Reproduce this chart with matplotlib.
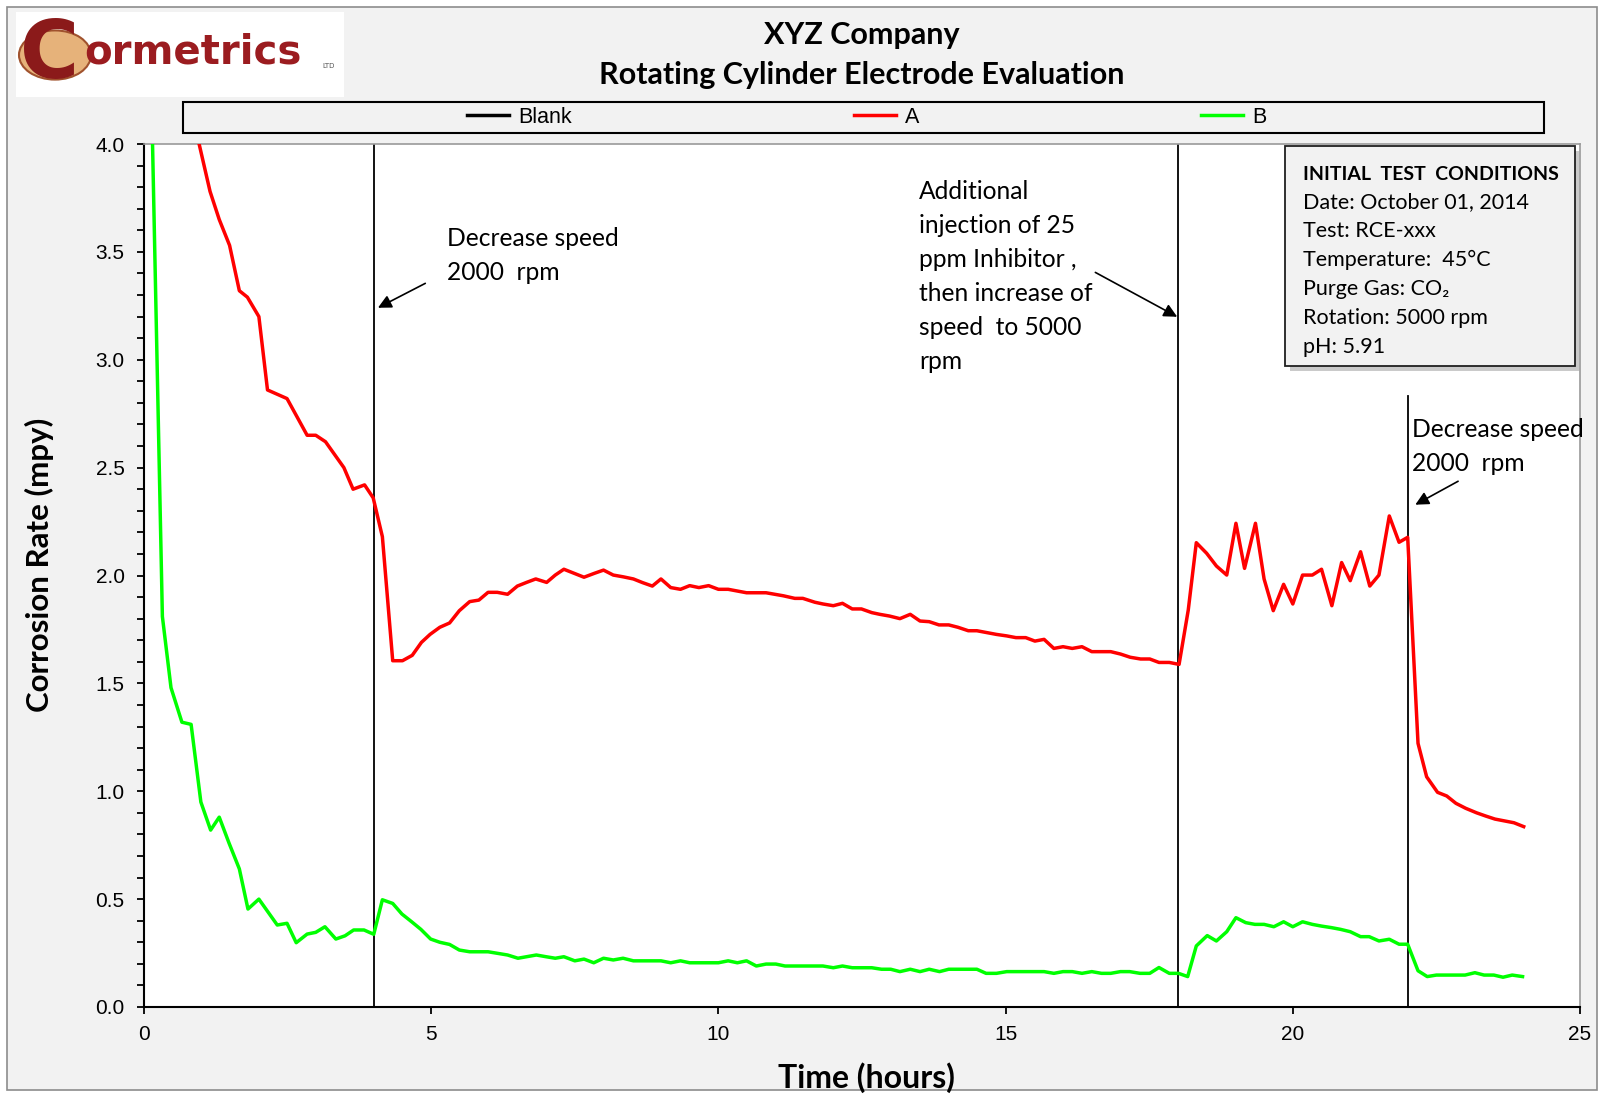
import numpy as np
import matplotlib
matplotlib.use("Agg")
import matplotlib.pyplot as plt
from matplotlib.patches import Rectangle, Circle

# Series (time in hours, corrosion rate in mpy)
time_a = [0.83, 1.15, 1.31, 1.49, 1.66, 1.80, 2.00, 2.15, 2.49, 2.84, 2.99, 3.16,
          3.48, 3.64, 3.84, 3.99, 4.15, 4.33, 4.50, 4.67, 4.83, 4.98, 5.15, 5.32,
          5.49, 5.67, 5.83, 5.99, 6.15, 6.33, 6.50, 6.66, 6.82, 7.01, 7.16, 7.31,
          7.49, 7.66, 7.84, 8.00, 8.17, 8.34, 8.52, 8.68, 8.85, 9.00, 9.17, 9.34,
          9.50, 9.66, 9.83, 10.00, 10.17, 10.33, 10.49, 10.66, 10.83, 11.00, 11.13,
          11.33, 11.47, 11.68, 11.82, 12.00, 12.16, 12.33, 12.49, 12.67, 12.81,
          12.98, 13.16, 13.34, 13.51, 13.67, 13.84, 14.01, 14.17, 14.35, 14.50,
          14.68, 14.84, 15.02, 15.18, 15.35, 15.51, 15.67, 15.84, 16.00, 16.16,
          16.33, 16.50, 16.67, 16.83, 17.00, 17.17, 17.35, 17.51, 17.67, 17.85,
          18.02, 18.18, 18.32, 18.50, 18.67, 18.85, 19.01, 19.16, 19.35, 19.50,
          19.66, 19.84, 20.00, 20.17, 20.34, 20.50, 20.68, 20.85, 21.00, 21.18,
          21.34, 21.50, 21.68, 21.85, 22.00, 22.18, 22.33, 22.52, 22.68, 22.84,
          23.01, 23.20, 23.36, 23.52, 23.69, 23.85, 24.02]
rate_a = [4.15, 3.78, 3.65, 3.53, 3.32, 3.29, 3.20, 2.86, 2.82, 2.65, 2.65, 2.62,
          2.50, 2.40, 2.42, 2.36, 2.18, 1.605, 1.605, 1.63, 1.69, 1.727, 1.76, 1.78,
          1.837, 1.879, 1.886, 1.922, 1.922, 1.913, 1.951, 1.968, 1.984, 1.968, 2.002, 2.029,
          2.01, 1.992, 2.01, 2.025, 2.002, 1.994, 1.984, 1.967, 1.951, 1.984, 1.944, 1.936,
          1.953, 1.944, 1.953, 1.936, 1.936, 1.928, 1.92, 1.92, 1.92, 1.912, 1.906,
          1.894, 1.894, 1.876, 1.868, 1.86, 1.871, 1.845, 1.845, 1.828, 1.82,
          1.812, 1.80, 1.82, 1.789, 1.786, 1.771, 1.771, 1.76, 1.744, 1.744,
          1.735, 1.727, 1.72, 1.712, 1.712, 1.696, 1.704, 1.662, 1.67, 1.662,
          1.67, 1.647, 1.647, 1.647, 1.636, 1.621, 1.613, 1.613, 1.597, 1.597,
          1.588, 1.84, 2.152, 2.103, 2.044, 2.002, 2.242, 2.033, 2.242, 1.984,
          1.837, 1.959, 1.868, 2.002, 2.002, 2.029, 1.86, 2.06, 1.976, 2.11,
          1.951, 2.002, 2.276, 2.154, 2.177, 1.222, 1.067, 0.995, 0.978, 0.944,
          0.921, 0.90, 0.885, 0.871, 0.862, 0.854, 0.836]

time_b = [0.00, 0.32, 0.47, 0.66, 0.82, 0.99, 1.16, 1.31, 1.48, 1.66, 1.81, 2.00,
          2.32, 2.49, 2.65, 2.84, 2.99, 3.15, 3.34, 3.50, 3.65, 3.83, 4.00, 4.15,
          4.33, 4.49, 4.66, 4.82, 4.99, 5.15, 5.32, 5.49, 5.67, 5.83, 5.99, 6.15,
          6.33, 6.51, 6.66, 6.83, 7.00, 7.16, 7.31, 7.50, 7.66, 7.83, 8.00, 8.17,
          8.34, 8.52, 8.68, 8.85, 9.00, 9.17, 9.34, 9.50, 9.66, 9.83, 10.00, 10.17,
          10.33, 10.49, 10.66, 10.83, 11.00, 11.16, 11.33, 11.50, 11.66, 11.82, 12.00,
          12.16, 12.33, 12.50, 12.67, 12.84, 13.00, 13.16, 13.34, 13.51, 13.67, 13.85,
          14.01, 14.17, 14.33, 14.50, 14.66, 14.84, 15.02, 15.18, 15.35, 15.51, 15.67,
          15.84, 16.00, 16.16, 16.33, 16.50, 16.67, 16.83, 17.00, 17.16, 17.34, 17.51,
          17.67, 17.85, 18.01, 18.17, 18.32, 18.51, 18.67, 18.85, 19.01, 19.18, 19.34,
          19.50, 19.67, 19.84, 20.00, 20.17, 20.34, 20.50, 20.67, 20.83, 21.00, 21.18,
          21.33, 21.50, 21.68, 21.85, 22.00, 22.18, 22.34, 22.50, 22.67, 22.83, 23.00,
          23.17, 23.33, 23.50, 23.66, 23.82, 24.00]
rate_b = [5.9, 1.81, 1.48, 1.32, 1.31, 0.95, 0.82, 0.88, 0.76, 0.64, 0.454, 0.50,
          0.38, 0.388, 0.298, 0.338, 0.346, 0.372, 0.315, 0.33, 0.357, 0.357, 0.337, 0.497,
          0.48, 0.431, 0.395, 0.36, 0.315, 0.30, 0.29, 0.264, 0.256, 0.256, 0.256, 0.249,
          0.241, 0.226, 0.233, 0.241, 0.233, 0.226, 0.233, 0.214, 0.222, 0.205, 0.226, 0.218,
          0.226, 0.214, 0.214, 0.214, 0.214, 0.205, 0.214, 0.205, 0.205, 0.205, 0.205, 0.214,
          0.205, 0.214, 0.19, 0.199, 0.199, 0.19, 0.19, 0.19, 0.19, 0.19, 0.182,
          0.19, 0.182, 0.182, 0.182, 0.175, 0.175, 0.164, 0.175, 0.164, 0.175, 0.164,
          0.175, 0.175, 0.175, 0.175, 0.156, 0.156, 0.164, 0.164, 0.164, 0.164, 0.164,
          0.156, 0.164, 0.164, 0.156, 0.164, 0.156, 0.156, 0.164, 0.164, 0.156, 0.156,
          0.183, 0.156, 0.156, 0.141, 0.283, 0.331, 0.306, 0.349, 0.414, 0.391, 0.383,
          0.383, 0.372, 0.395, 0.372, 0.395, 0.383, 0.375, 0.368, 0.36, 0.349, 0.326,
          0.326, 0.306, 0.314, 0.291, 0.291, 0.168, 0.141, 0.148, 0.148, 0.148, 0.148,
          0.159, 0.148, 0.148, 0.138, 0.148, 0.141]

# Event markers (hours) and the top of each marker line (mpy)
event_times = [4, 18, 22]
event_tops = [4.0, 4.0, 2.83]

series_names = ["Blank", "A", "B"]
series_colors = ["black", "#ff0000", "#00ff00"]

x_ticks = [0, 5, 10, 15, 20, 25]
y_ticks = [0.0, 0.5, 1.0, 1.5, 2.0, 2.5, 3.0, 3.5, 4.0]

conditions = ["Date: October 01, 2014", "Test: RCE-xxx", "Temperature:  45°C",
              "Purge Gas: CO₂", "Rotation: 5000 rpm", "pH: 5.91"]

W, H = 1604, 1095
CAL = ["Lato", "DejaVu Sans"]
ARIAL = ["Liberation Sans", "DejaVu Sans"]


def fx(px):
    return px / W


def fy(py):
    return 1 - py / H


fig = plt.figure(figsize=(W / 100, H / 100), dpi=100, facecolor="white")

# outer chart frame
fig.add_artist(Rectangle((fx(7), fy(1090)), fx(1597) - fx(7), fy(7) - fy(1090),
                         facecolor="#f2f2f2", edgecolor="#8c8c8c", lw=1.2,
                         transform=fig.transFigure, zorder=-5))

ax = fig.add_axes([fx(144), fy(1007), fx(1580) - fx(144), fy(144) - fy(1007)])
ax.set_facecolor("white")

for t, top in zip(event_times, event_tops):
    ax.plot([t, t], [0, top], color="black", lw=1.3, zorder=2)

ax.plot([], [], color=series_colors[0], lw=2.5, label=series_names[0])
ax.plot(time_a, rate_a, color=series_colors[1], lw=2.5, label=series_names[1], zorder=3)
ax.plot(time_b, rate_b, color=series_colors[2], lw=2.5, label=series_names[2], zorder=3)

ax.set_xlim(0, 25)
ax.set_ylim(0, 4)
ax.set_xticks(x_ticks)
ax.set_yticks(y_ticks)
ax.set_yticks(np.arange(0, 4.01, 0.1), minor=True)
ax.set_yticklabels([f"{v:.1f}" for v in y_ticks])
ax.tick_params(axis="y", which="both", direction="out", length=5, width=1.3, pad=9)
ax.tick_params(axis="x", which="major", direction="out", length=5, width=1.3, pad=8)
for lbl in ax.get_xticklabels() + ax.get_yticklabels():
    lbl.set_family(ARIAL)
    lbl.set_fontsize(15)

for side in ["left", "bottom"]:
    ax.spines[side].set_color("black")
    ax.spines[side].set_linewidth(1.5)
for side in ["top", "right"]:
    ax.spines[side].set_color("#9a9a9a")
    ax.spines[side].set_linewidth(1.2)

ax.set_xlabel("Time (hours)", family=CAL, fontsize=23, fontweight="bold")
ax.set_ylabel("Corrosion Rate (mpy)", family=CAL, fontsize=22.5, fontweight="bold")
ax.xaxis.set_label_coords(0.503, -0.064)
ax.yaxis.set_label_coords(-0.063, 0.512)

# annotations
arrow = dict(arrowstyle="-|>", color="black", lw=1.2, mutation_scale=20)
note_kw = dict(family=CAL, fontsize=17.7, va="center", ha="left", linespacing=1.58)
ax.text(5.27, 3.485, "Decrease speed\n2000  rpm", **note_kw)
ax.annotate("", xy=(4.03, 3.235), xytext=(4.94, 3.36), arrowprops=arrow)

ax.text(13.49, 3.386, "Additional\ninjection of 25\nppm Inhibitor ,\nthen increase of\n"
        "speed  to 5000\nrpm", **note_kw)
ax.annotate("", xy=(18.03, 3.193), xytext=(16.52, 3.411), arrowprops=arrow)

ax.text(22.07, 2.598, "Decrease speed\n2000  rpm", **note_kw)
ax.annotate("", xy=(22.09, 2.322), xytext=(22.92, 2.443), arrowprops=arrow)

# titles
fig.text(fx(862), fy(35), "XYZ Company", family=CAL, fontsize=22, fontweight="bold",
         ha="center", va="center")
fig.text(fx(862), fy(75), "Rotating Cylinder Electrode Evaluation", family=CAL,
         fontsize=22, fontweight="bold", ha="center", va="center")

# legend in a wide framed strip
fig.add_artist(Rectangle((fx(183), fy(133)), fx(1544) - fx(183), fy(102) - fy(133),
                         facecolor="#f2f2f2", edgecolor="black", lw=1.5,
                         transform=fig.transFigure, zorder=1))
handles, labels = ax.get_legend_handles_labels()
leg = fig.legend(handles, labels, loc="center", bbox_to_anchor=(fx(867), fy(117.5)),
                 ncol=3, frameon=False, columnspacing=13.1, handlelength=1.95,
                 handletextpad=0.42, prop={"family": ARIAL, "size": 15.5})
leg.set_zorder(2)

# initial test conditions box with a shadow
fig.add_artist(Rectangle((fx(1290), fy(371)), fx(1575) - fx(1285), fy(146) - fy(366),
                         facecolor="#a8a8a8", edgecolor="none", alpha=0.6,
                         transform=fig.transFigure, zorder=4))
fig.add_artist(Rectangle((fx(1285), fy(366)), fx(1575) - fx(1285), fy(146) - fy(366),
                         facecolor="#f2f2f2", edgecolor="#202020", lw=1.3,
                         transform=fig.transFigure, zorder=5))
fig.text(fx(1303), fy(174), "INITIAL  TEST  CONDITIONS", family=CAL, fontsize=14,
         fontweight="bold", va="center", zorder=6)
for i, line in enumerate(conditions):
    fig.text(fx(1303), fy(202 + i * 29), line, family=CAL, fontsize=15.5,
             va="center", zorder=6)

# logo
fig.add_artist(Rectangle((fx(16), fy(97)), fx(344) - fx(16), fy(12) - fy(97),
                         facecolor="white", edgecolor="none",
                         transform=fig.transFigure, zorder=1))
fig.add_artist(Circle((fx(55), fy(55)), 36 / W, facecolor="#e6b27a", edgecolor="#a0522d",
                      lw=1.5, transform=fig.transFigure, zorder=2))
fig.text(fx(20), fy(56), "C", family=["DejaVu Sans"], fontsize=58, fontweight="bold",
         color="#8b1a1a", va="center", ha="left", zorder=3)
fig.text(fx(84), fy(52), "ormetrics", family=["DejaVu Sans"], fontsize=29,
         fontweight="bold", color="#9b1c20", va="center", ha="left", zorder=3)
fig.text(fx(322), fy(66), "LTD", family=["DejaVu Sans"], fontsize=5, color="#555555",
         va="center", ha="left", zorder=3)

fig.savefig("out.png", dpi=100, facecolor="white")
